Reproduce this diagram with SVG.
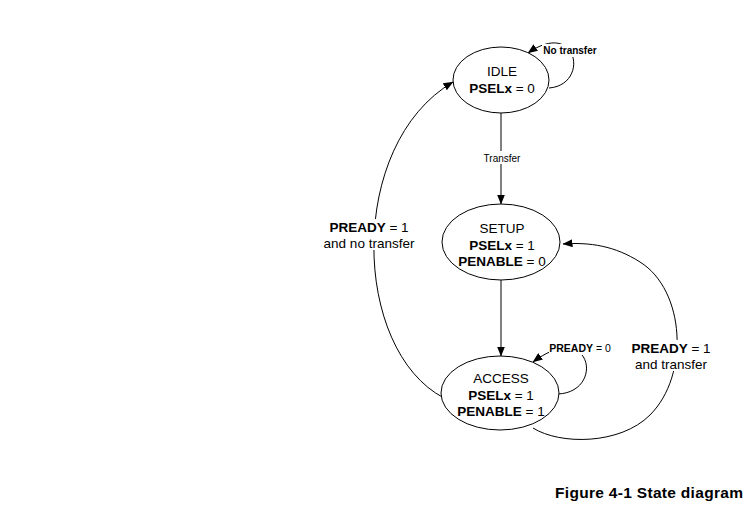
<svg xmlns="http://www.w3.org/2000/svg" width="750" height="505" viewBox="0 0 750 505">
<defs>
<marker id="arr" markerUnits="userSpaceOnUse" markerWidth="10" markerHeight="8" refX="9.5" refY="4" orient="auto">
<path d="M0,0 L10,4 L0,8 z" fill="#000"/>
</marker>
<style>
text{font-family:"Liberation Sans",Arial,sans-serif;fill:#000}
.st{font-size:13.5px;text-anchor:middle}
.sm{font-size:10px;text-anchor:middle}
.b{font-weight:bold}
.node ellipse{fill:#fff;stroke:#000;stroke-width:1}
.edge{fill:none;stroke:#000;stroke-width:1;marker-end:url(#arr)}
.bg{fill:#fff}
</style>
</defs>
<rect width="750" height="505" fill="#fff"/>
<g id="connectors">
<path class="edge" d="M501,113 L501,204"/>
<path class="edge" d="M501,280 L501,356"/>
<path class="edge" d="M549,88 C590,85 578,18 528,53"/>
<path class="edge" d="M558,394 C605,392 592,318 533,362"/>
<path class="edge" d="M444,398 C352,350 346,145 453,82"/>
<path class="edge" d="M533,428 C560,445 620,445 650,415 C690,375 685,290 640,262 C615,246 590,242 563,244"/>
<rect class="bg" x="481" y="151" width="42" height="13"/>
<text class="sm" x="502" y="162">Transfer</text>
<rect class="bg" x="542" y="44" width="57" height="13"/>
<text class="sm b" x="570" y="54">No transfer</text>
<rect class="bg" x="549" y="342" width="63" height="13"/>
<text x="580" y="352" style="font-size:10.5px;text-anchor:middle"><tspan class="b">PREADY</tspan> = 0</text>
<rect class="bg" x="320" y="219" width="98" height="31"/>
<text class="st" x="369" y="232"><tspan class="b">PREADY</tspan> = 1</text>
<text class="st" x="369" y="248">and no transfer</text>
<rect class="bg" x="628" y="340" width="86" height="31"/>
<text class="st" x="671" y="353"><tspan class="b">PREADY</tspan> = 1</text>
<text class="st" x="671" y="369">and transfer</text>
</g>
<g id="idle" class="node">
<ellipse cx="501" cy="80" rx="48" ry="33"/>
<text class="st" x="502" y="76">IDLE</text>
<text class="st" x="502" y="93"><tspan class="b">PSELx</tspan> = 0</text>
</g>
<g id="setup" class="node">
<ellipse cx="501" cy="242" rx="59" ry="38"/>
<text class="st" x="502" y="233">SETUP</text>
<text class="st" x="502" y="250"><tspan class="b">PSELx</tspan> = 1</text>
<text class="st" x="502" y="266"><tspan class="b">PENABLE</tspan> = 0</text>
</g>
<g id="access" class="node">
<ellipse cx="500" cy="393" rx="59" ry="37"/>
<text class="st" x="501" y="383">ACCESS</text>
<text class="st" x="501" y="400"><tspan class="b">PSELx</tspan> = 1</text>
<text class="st" x="501" y="416"><tspan class="b">PENABLE</tspan> = 1</text>
</g>
<text x="555" y="498" textLength="188" lengthAdjust="spacing" style="font-size:15.5px;font-weight:bold">Figure 4-1 State diagram</text>
</svg>
